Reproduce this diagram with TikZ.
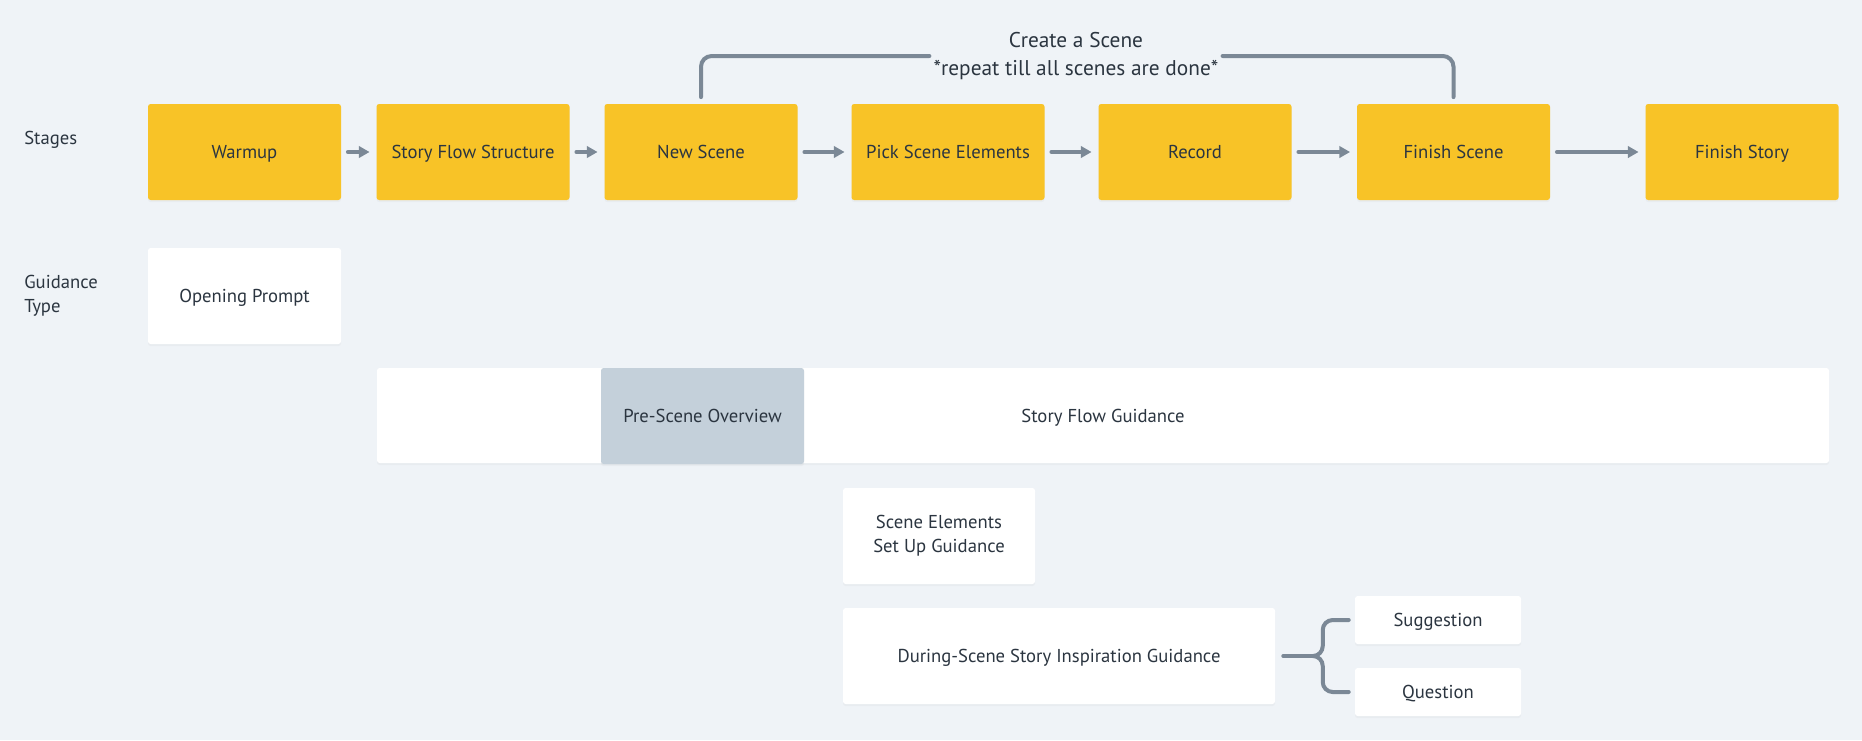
\documentclass[tikz,border=0pt]{standalone}
\usepackage{fontspec}
\setmainfont{PT Sans}
\usepackage{tikz}
\usetikzlibrary{arrows.meta,shadows,positioning}
\usepackage{xcolor}
\definecolor{wsbg}{HTML}{EFF3F7}
\definecolor{wsyellow}{HTML}{F8C327}
\definecolor{wsgrey}{HTML}{7B8896}
\definecolor{wsslate}{HTML}{C4D0DA}
\definecolor{wstext}{HTML}{2B3540}
\tikzstyle{card} = [rounded corners=2pt, minimum height=72pt, align=center, text=wstext, font=\fontsize{14}{18}\selectfont, text height=10pt, text depth=0pt, drop shadow={opacity=0.06, shadow xshift=0pt, shadow yshift=-1.5pt}]
\tikzstyle{stagebox} = [card, fill=wsyellow, minimum width=144.75pt]
\tikzstyle{guidebox} = [card, fill=white]
\tikzstyle{flow} = [line width=3pt, line cap=round, -{Triangle[length=8pt,width=8.5pt]}, color=wsgrey, shorten >=5pt, shorten <=5pt]
\tikzstyle{bracket} = [line width=3pt, line cap=round, color=wsgrey, rounded corners=8pt]
\tikzstyle{rowlabel} = [anchor=west, inner sep=0pt, align=left, text=wstext, font=\fontsize{14}{18}\selectfont]

\begin{document}
\begin{tikzpicture}[x=0.75pt, y=-0.75pt]
    % Background
    \fill[wsbg] (0,0) rectangle (1862,740);
    \useasboundingbox (0,0) rectangle (1862,740);

    % Row labels
    \node[rowlabel] (stages) at (24,140) {Stages};
    \node[rowlabel] (guidtype) at (24,296) {Guidance\\Type};

    % Stages
    \node[stagebox] (warmup) at (244.5,152) {Warmup};
    \node[stagebox] (structure) at (473,152) {Story Flow Structure};
    \node[stagebox] (newscene) at (701,152) {New Scene};
    \node[stagebox] (pick) at (948,152) {Pick Scene Elements};
    \node[stagebox] (record) at (1195,152) {Record};
    \node[stagebox] (finishscene) at (1453.5,152) {Finish Scene};
    \node[stagebox] (finishstory) at (1742,152) {Finish Story};

    % Stage arrows
    \foreach \a/\b in {warmup/structure, structure/newscene, newscene/pick, pick/record, record/finishscene, finishscene/finishstory}
        \draw[flow] (\a) -- (\b);

    % Scene loop
    \node[inner sep=3pt, align=center, text=wstext, font=\fontsize{16}{21}\selectfont] (loop) at (1076,56) {Create a Scene\\*repeat till all scenes are done*};
    \draw[bracket] ([yshift=5pt]newscene.north) |- (loop.west);
    \draw[bracket] (loop.east) -| ([yshift=5pt]finishscene.north);

    % Guidance types
    \node[guidebox, minimum width=144.75pt] (opening) at (244.5,296) {Opening Prompt};
    \node[guidebox, minimum width=1089pt, minimum height=71.25pt] (storyguide) at (1103,415.5) {Story Flow Guidance};
    \node[card, fill=wsslate, minimum width=152.25pt] (prescene) at (702.5,416) {Pre-Scene Overview};
    \node[guidebox, text height={}, text depth={}, minimum width=144pt] (setup) at (939,536) {Scene Elements\\Set Up Guidance};
    \node[guidebox, minimum width=324pt] (during) at (1059,656) {During-Scene Story Inspiration Guidance};
    \node[guidebox, minimum width=124.5pt, minimum height=36pt] (suggestion) at (1438,620) {Suggestion};
    \node[guidebox, minimum width=124.5pt, minimum height=36pt] (question) at (1438,692) {Question};

    % Brace
    \coordinate (fork) at (1313,656);
    \draw[bracket] ([xshift=6pt]during.east) -- (fork);
    \draw[bracket, sharp corners] ([xshift=-4.5pt]suggestion.west) -- ++(-12pt,0) to[out=180,in=90] ++(-7.5pt,-7.5pt) -- ++(0,-12pt) to[out=-90,in=0] (fork);
    \draw[bracket, sharp corners] ([xshift=-4.5pt]question.west) -- ++(-12pt,0) to[out=180,in=-90] ++(-7.5pt,7.5pt) -- ++(0,12pt) to[out=90,in=0] (fork);
\end{tikzpicture}
\end{document}
